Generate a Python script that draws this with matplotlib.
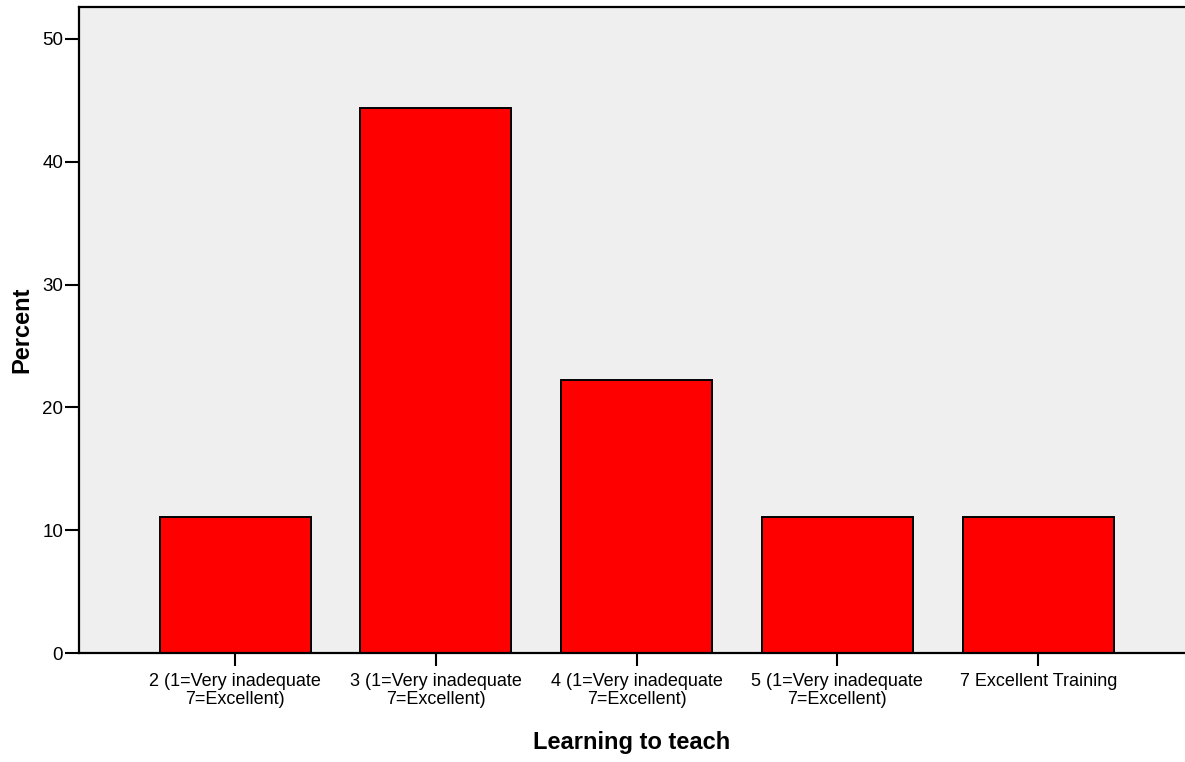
#!/usr/bin/env python3
"""Bar chart of ratings for 'Learning to teach' (percent of respondents)."""

import matplotlib
matplotlib.use("Agg")
import matplotlib.pyplot as plt

plt.rcParams["font.family"] = ["Liberation Sans", "DejaVu Sans"]

CATEGORIES = [
    "2 (1=Very inadequate\n7=Excellent)",
    "3 (1=Very inadequate\n7=Excellent)",
    "4 (1=Very inadequate\n7=Excellent)",
    "5 (1=Very inadequate\n7=Excellent)",
    "7 Excellent Training",
]
PERCENTS = [11.1, 44.4, 22.2, 11.1, 11.1]
Y_TICKS = [0, 10, 20, 30, 40, 50]


def main() -> None:
    fig = plt.figure(figsize=(11.85, 7.62), dpi=100)
    ax = fig.add_axes([0.0667, 0.1430, 0.9333, 0.8478])
    ax.set_facecolor("#efefef")

    positions = list(range(len(CATEGORIES)))
    ax.bar(positions, PERCENTS, width=0.752, color="#ff0000",
           edgecolor="black", linewidth=1.4, zorder=2)

    ax.set_xlim(-0.777, 4.731)
    ax.set_ylim(0, 52.6)
    ax.set_xticks(positions)
    ax.set_xticklabels(CATEGORIES, fontsize=13, linespacing=1.05)
    ax.set_yticks(Y_TICKS)
    ax.set_yticklabels([str(v) for v in Y_TICKS], fontsize=13.5)

    ax.tick_params(axis="y", length=10, width=1.5, pad=1.5)
    ax.tick_params(axis="x", length=9.5, width=1.5, pad=5)

    for side in ("left", "bottom", "top"):
        ax.spines[side].set_linewidth(1.6)
    ax.spines["right"].set_visible(False)

    ax.set_xlabel("Learning to teach", fontsize=17, fontweight="bold",
                  va="center")
    ax.xaxis.set_label_coords(0.5, -0.138)
    ax.set_ylabel("Percent", fontsize=17, fontweight="bold",
                  va="center", ha="center")
    ax.yaxis.set_label_coords(-0.0515, 0.5)

    fig.savefig("out.png", dpi=100)


if __name__ == "__main__":
    main()
